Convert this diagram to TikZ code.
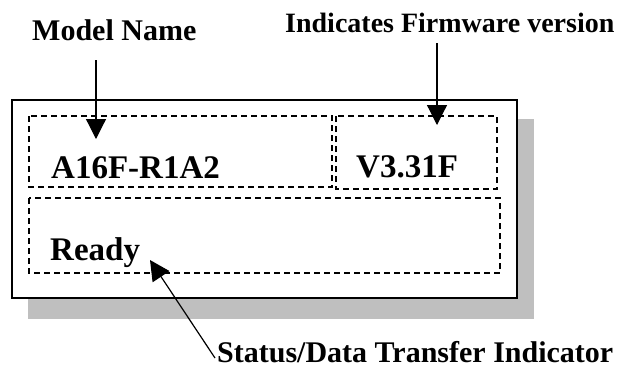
\documentclass[tikz,border=0pt]{standalone}
\usepackage{fontspec}
\setmainfont{Liberation Serif}
\usetikzlibrary{arrows.meta}
\newcommand{\lblfont}[1]{\fontsize{#1}{#1}\selectfont\bfseries}
\begin{document}
\begin{tikzpicture}[x=1pt,y=-1pt,
  dashbox/.style={draw,line width=1.2pt,dash pattern=on 6pt off 4pt},
  pointer/.style={draw,line width=1.2pt,-{Triangle[width=20pt,length=20pt]}},
  every node/.style={inner sep=0pt,anchor=base west}]
\useasboundingbox (0,0) rectangle (621,381);
% display panel with its shadow
\fill[black!25] (28,119) rectangle (534,319);
\draw[fill=white,line width=1.5pt] (12,100) rectangle (517,298);
\draw[dashbox] (29,116) rectangle (332,187);
\draw[dashbox] (336,116) rectangle (497,189);
\draw[dashbox] (29,198) rectangle (500,273);
% panel texts
\node (modeltxt) at (51,178) {\lblfont{33}A16F-R1A2};
\node (fwtxt) at (356,177) {\lblfont{33}V3.31F};
\node (readytxt) at (50,260) {\lblfont{33}Ready};
% callouts
\node (model) at (32,40) {\lblfont{30}Model Name};
\node (firmware) at (285,32) {\lblfont{28}Indicates Firmware version};
\node (status) at (217,362) {\lblfont{30}Status/Data Transfer Indicator};
\coordinate (tipmodel) at (96,139);
\coordinate (tipfw) at (437,125);
\coordinate (tipstatus) at (150,260);
\draw[pointer] (model.south -| tipmodel) ++(0,20) -- (tipmodel);
\draw[pointer] (firmware.south -| tipfw) ++(0,11) -- (tipfw);
\draw[pointer] ([shift={(-2pt,4pt)}]status.base west) -- (tipstatus);
\end{tikzpicture}
\end{document}
